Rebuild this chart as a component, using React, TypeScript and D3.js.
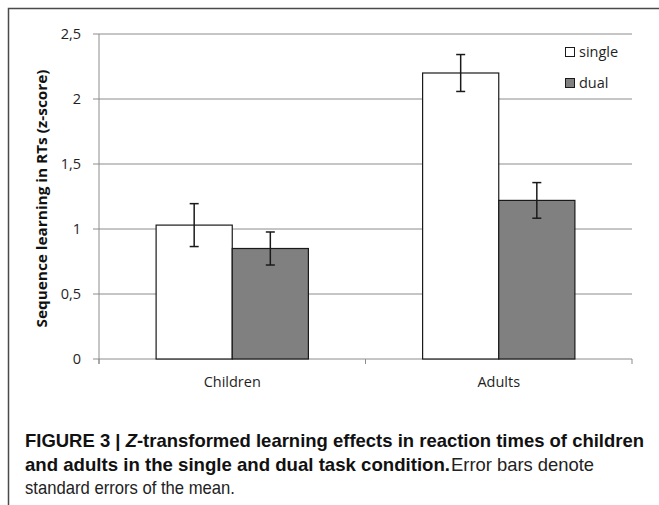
import React from "react";
import * as d3 from "d3";

const categories = ["Children", "Adults"];
const seriesNames = ["single", "dual"];
const singleValues = [1.03, 2.2];
const dualValues = [0.85, 1.22];
const singleErrors = [0.165, 0.142];
const dualErrors = [0.127, 0.137];
const yTicks = [0, 0.5, 1, 1.5, 2, 2.5];
const yTickLabels = ["0", "0,5", "1", "1,5", "2", "2,5"];
const seriesFills = ["#ffffff", "#808080"];

const W = 659;
const H = 505;
const plotLeft = 99;
const plotRight = 632;
const plotTop = 34;
const plotBottom = 359;

export default function App() {
  const x = d3.scaleBand<string>().domain(categories).range([plotLeft, plotRight]).paddingInner(0).paddingOuter(0);
  const xs = d3.scaleBand<string>().domain(seriesNames).range([0, x.bandwidth()]).paddingInner(0).paddingOuter(0.75);
  const y = d3.scaleLinear().domain([0, 2.5]).range([plotBottom, plotTop]);
  const values = [singleValues, dualValues];
  const errors = [singleErrors, dualErrors];
  const tickFont = "'Open Sans', 'DejaVu Sans', sans-serif";
  const captionFont = "'Liberation Sans Narrow', 'Liberation Sans', Arial, sans-serif";
  const xTickPositions = [plotLeft, ...categories.map((c) => (x(c) as number) + x.bandwidth())];

  return (
    <svg width={W} height={H} style={{ position: "absolute", left: 0, top: 0, display: "block" }}>
      <rect x={0} y={0} width={W} height={H} fill="#ffffff" />
      <rect x={8.5} y={8.5} width={W + 20} height={H + 20} fill="none" stroke="#4a4a4a" strokeWidth={1.5} />
      {yTicks.map((t, i) => (
        <line key={"g" + i} x1={plotLeft - 6} x2={plotRight} y1={y(t)} y2={y(t)} stroke="#8c8c8c" strokeWidth={1} />
      ))}
      <line x1={plotLeft} x2={plotLeft} y1={plotTop} y2={plotBottom + 5} stroke="#8c8c8c" strokeWidth={1} />
      {xTickPositions.map((p, i) => (
        <line key={"xt" + i} x1={p} x2={p} y1={plotBottom} y2={plotBottom + 5} stroke="#8c8c8c" strokeWidth={1} />
      ))}
      {yTicks.map((t, i) => (
        <text key={"yl" + i} x={plotLeft - 18} y={y(t)} dy="0.35em" textAnchor="end" fontFamily={tickFont} fontSize={14.5} fill="#1f1f1f">
          {yTickLabels[i]}
        </text>
      ))}
      {categories.map((c, ci) =>
        seriesNames.map((s, si) => {
          const bx = (x(c) as number) + (xs(s) as number);
          const v = values[si][ci];
          return (
            <rect key={c + s} x={bx} y={y(v)} width={xs.bandwidth()} height={y(0) - y(v)} fill={seriesFills[si]} stroke="#1a1a1a" strokeWidth={1.2} />
          );
        })
      )}
      {categories.map((c, ci) =>
        seriesNames.map((s, si) => {
          const cx = (x(c) as number) + (xs(s) as number) + xs.bandwidth() / 2;
          const v = values[si][ci];
          const e = errors[si][ci];
          return (
            <g key={"e" + c + s} stroke="#1a1a1a" strokeWidth={1.5}>
              <line x1={cx} x2={cx} y1={y(v + e)} y2={y(v - e)} />
              <line x1={cx - 4.5} x2={cx + 4.5} y1={y(v + e)} y2={y(v + e)} />
              <line x1={cx - 4.5} x2={cx + 4.5} y1={y(v - e)} y2={y(v - e)} />
            </g>
          );
        })
      )}
      {categories.map((c) => (
        <text key={"cl" + c} x={(x(c) as number) + x.bandwidth() / 2} y={387} textAnchor="middle" fontFamily={tickFont} fontSize={14.5} fill="#1f1f1f">
          {c}
        </text>
      ))}
      <text
        transform={`translate(47, ${(plotTop + plotBottom) / 2 + 2}) rotate(-90)`}
        textAnchor="middle"
        fontFamily={tickFont}
        fontWeight="bold"
        fontSize={13.5}
        fill="#111"
        textLength={258}
        lengthAdjust="spacingAndGlyphs"
      >
        Sequence learning in RTs (z-score)
      </text>
      {seriesNames.map((s, i) => (
        <g key={"lg" + s}>
          <rect x={565.5} y={47.5 + i * 31} width={9} height={9} fill={seriesFills[i]} stroke="#1a1a1a" strokeWidth={1} />
          <text x={579} y={57 + i * 31} fontFamily={tickFont} fontSize={14.5} fill="#1f1f1f">
            {s}
          </text>
        </g>
      ))}
      <text x={25} y={447} fontFamily={captionFont} fontWeight="bold" fontSize={18.5} fill="#111" textLength={619} lengthAdjust="spacingAndGlyphs">
        FIGURE 3 | <tspan fontStyle="italic">Z</tspan>-transformed learning effects in reaction times of children
      </text>
      <text x={25} y={471} fontFamily={captionFont} fontWeight="bold" fontSize={18.5} fill="#111" textLength={425} lengthAdjust="spacingAndGlyphs">
        and adults in the single and dual task condition.
      </text>
      <text x={451} y={471} fontFamily={captionFont} fontSize={18.5} fill="#222" textLength={143} lengthAdjust="spacingAndGlyphs">
        Error bars denote
      </text>
      <text x={25} y={494} fontFamily={captionFont} fontSize={18.5} fill="#222" textLength={210} lengthAdjust="spacingAndGlyphs">
        standard errors of the mean.
      </text>
    </svg>
  );
}
